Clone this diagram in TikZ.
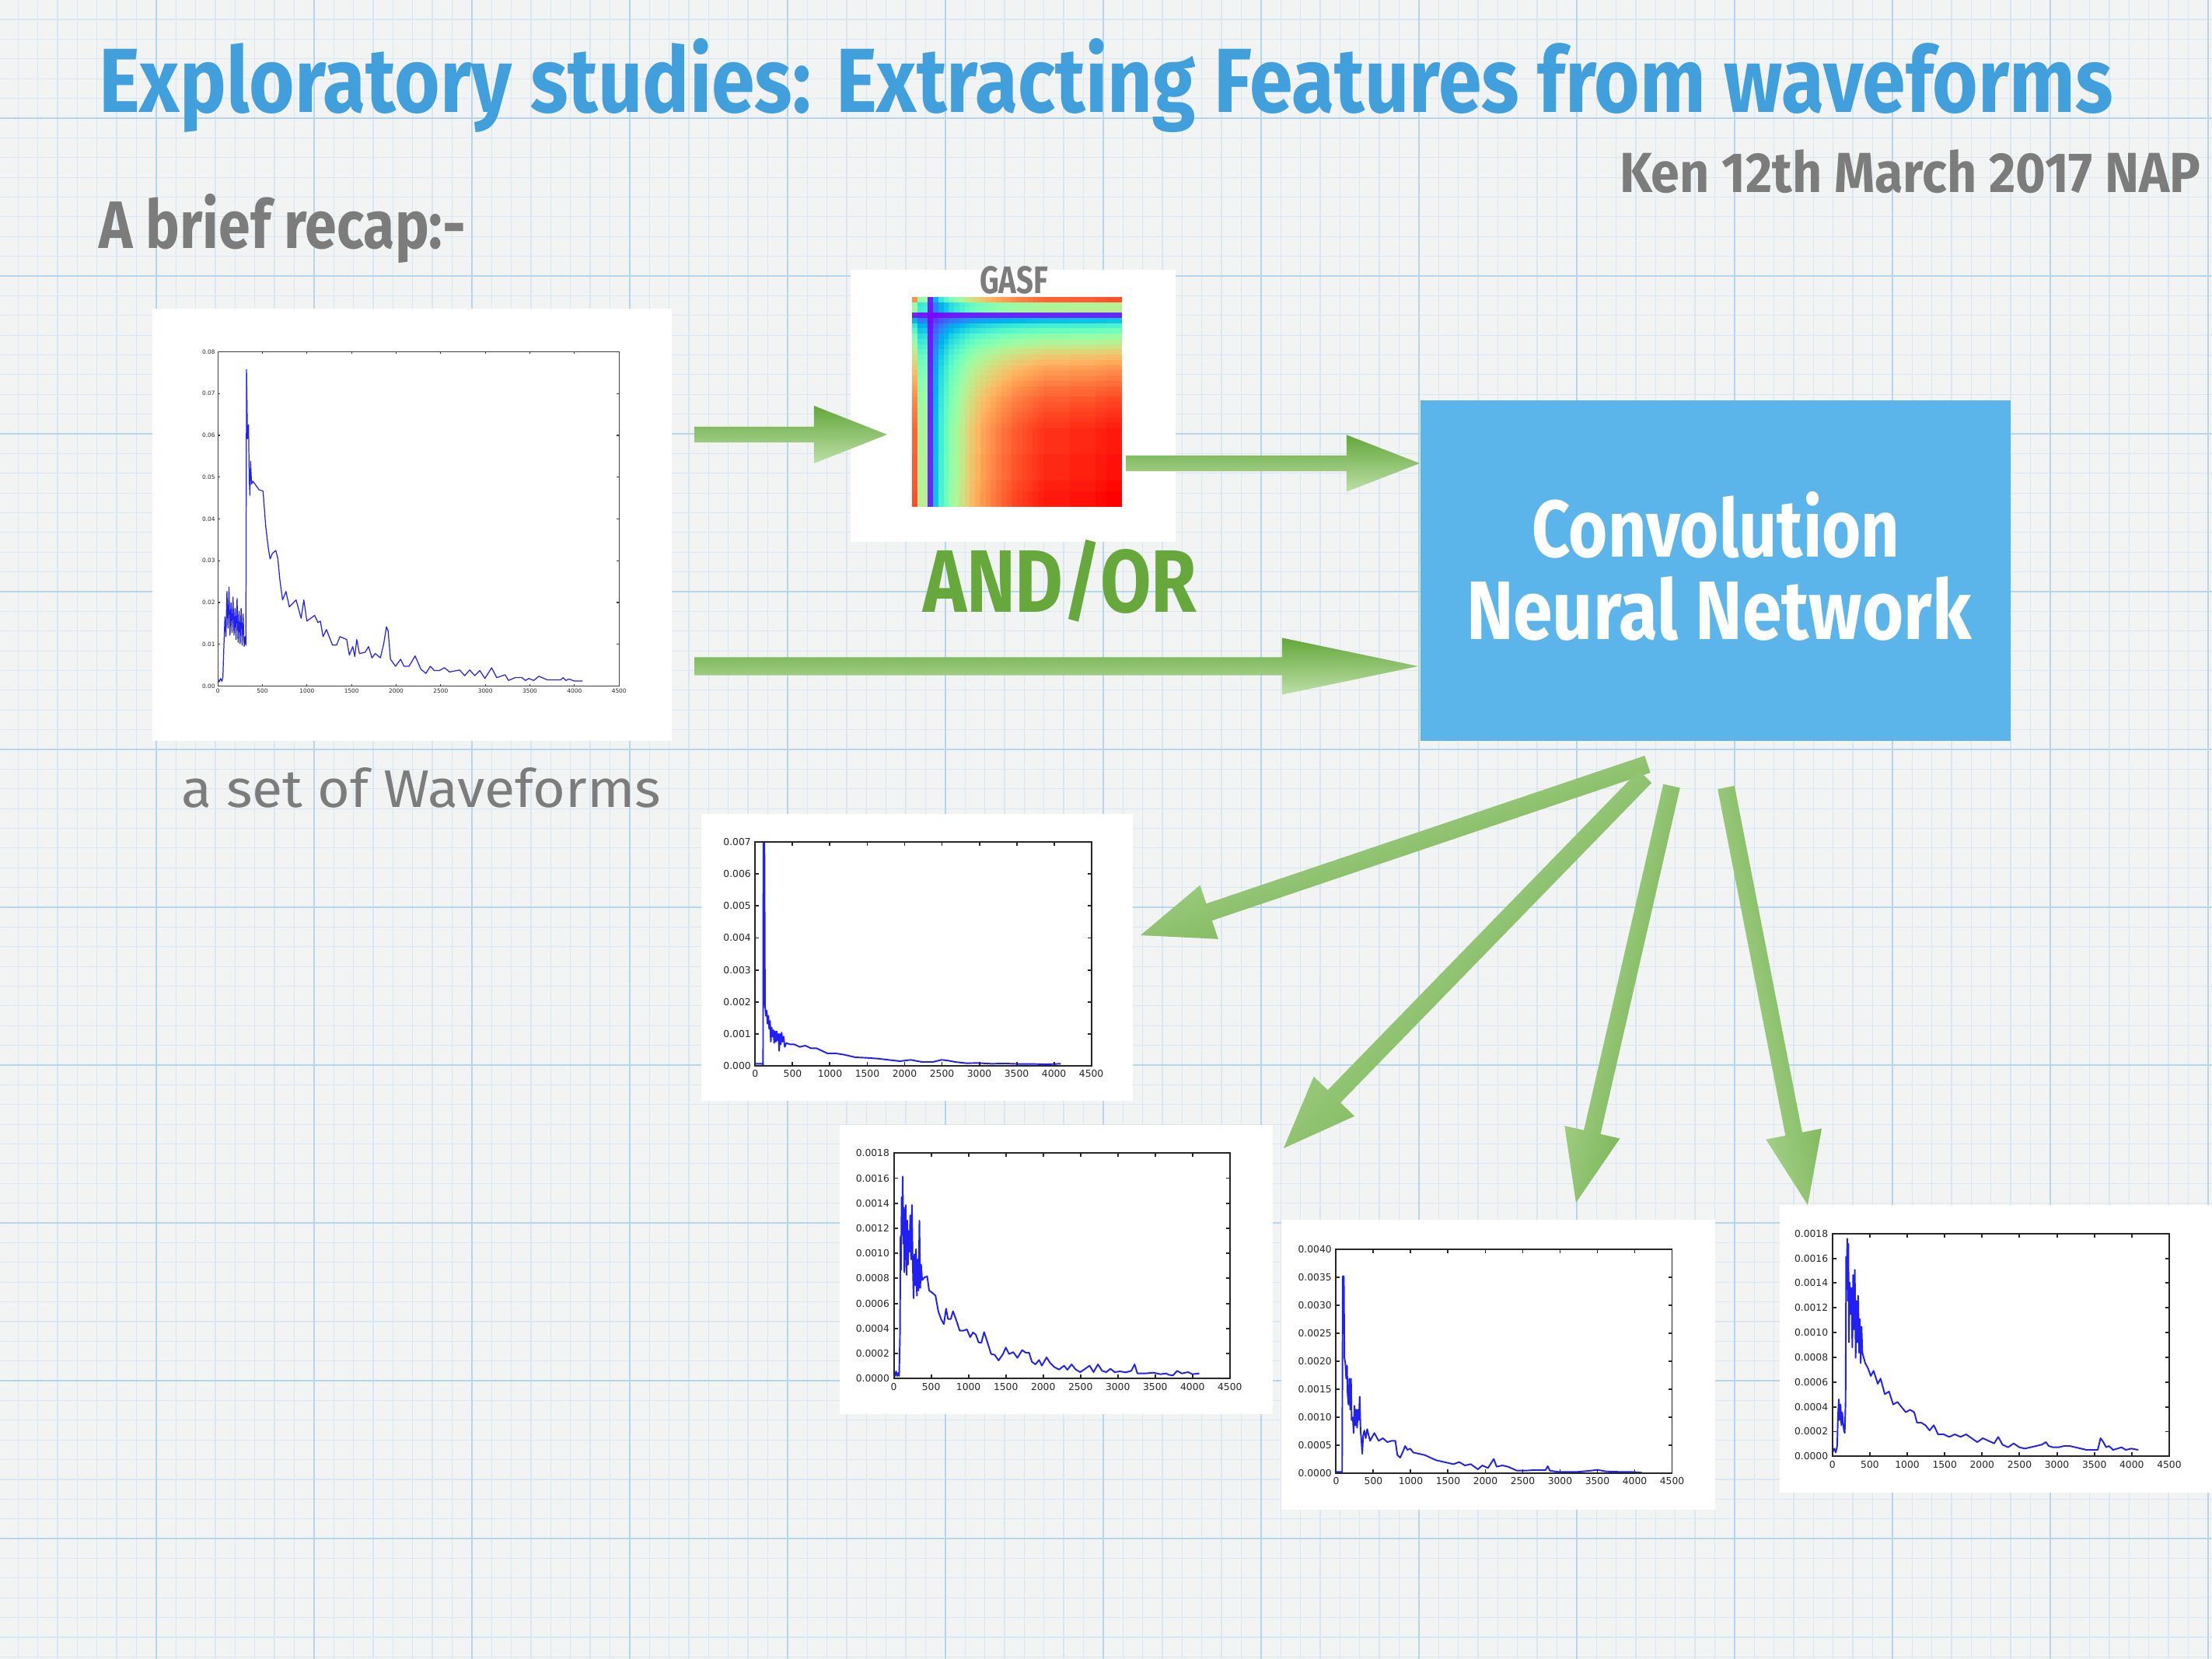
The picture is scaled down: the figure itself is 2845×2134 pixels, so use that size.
\documentclass[tikz,border=0pt]{standalone}
\usepackage{fontspec}
\usepackage{graphicx}
\usetikzlibrary{calc}
\newfontfamily\handfont{Fira Sans}
\newfontfamily\capfont{Fira Sans}
\newfontfamily\tickfont{DejaVu Sans}
\definecolor{bgpaper}{HTML}{F2F3F3}
\definecolor{gridminor}{HTML}{D8E7F1}
\definecolor{gridmajor}{HTML}{B6D6EE}
\definecolor{titleblue}{HTML}{419FDC}
\definecolor{textgray}{HTML}{7C7C7C}
\definecolor{andgreen}{HTML}{67A83C}
\definecolor{cnnblue}{HTML}{5BB5EA}
\definecolor{arrdark}{HTML}{64A73B}
\definecolor{arrlight}{HTML}{BCDFA6}
\definecolor{curveblue}{HTML}{2020F5}
\tikzset{
  panel/.style={fill=white, draw=none, inner sep=0pt, outer sep=0pt},
  txt/.style={inner sep=0pt, outer sep=0pt, anchor=base west},
  axisline/.style={draw=black!85, line width=0.55pt},
  curve/.style={draw=curveblue, line width=0.55pt, line join=round},
  ticklab/.style={inner sep=0pt, text=black!85, font=\tickfont},
  arrowfill/.style={top color=arrdark, bottom color=arrlight, draw=none},
  minorline/.style={draw=gridminor, line width=0.35pt},
  majorline/.style={draw=gridmajor, line width=0.75pt},
}
% tail, tip, shaft half width, head length, head half width, shading angle
\newcommand\fatarrow[6]{%
  \coordinate (fatH) at ($(#2)!#4!(#1)$);
  \shade[arrowfill, shading angle=#6]
    ($(#1)!#3!90:(#2)$) -- ($(fatH)!#3!90:(#2)$) -- ($(fatH)!#5!90:(#2)$) -- (#2)
    -- ($(fatH)!#5!-90:(#2)$) -- ($(fatH)!#3!-90:(#2)$) -- ($(#1)!#3!-90:(#2)$) -- cycle;
}
% x0, ytop, x1, ybottom, y labels, n intervals, font size, tick length, name prefix
\newcommand\plotframe[9]{%
  \draw[axisline] (#1,#2) rectangle (#3,#4);
  \foreach \lab [count=\i from 0] in {#5}{%
    \pgfmathsetmacro\yy{#4-(#4-#2)*\i/#6}%
    \draw[axisline] (#1,\yy) -- ++(#8,0) (#3,\yy) -- ++(-#8,0);
    \node[ticklab, anchor=east] (#9y\i) at (#1-#8,\yy) {\fontsize{#7}{#7}\selectfont\lab};
  }
  \foreach \lab [count=\i from 0] in {0,500,1000,1500,2000,2500,3000,3500,4000,4500}{%
    \pgfmathsetmacro\xx{#1+(#3-#1)*\i/9}%
    \draw[axisline] (\xx,#4) -- ++(0,-#8) (\xx,#2) -- ++(0,#8);
    \node[ticklab, anchor=north] (#9x\i) at (\xx,#4+#8) {\fontsize{#7}{#7}\selectfont\lab};
  }
}
\def\prof{0.9,0.6,0.62,0.05,0.28,0.4,0.47,0.55,0.6,0.65,0.7,0.74,0.77,0.8,0.82,0.84,0.86,0.88,0.89,0.91,0.92,0.93,0.94,0.95,0.96,0.97,0.97,0.97,0.97,0.97,0.98,0.98,0.98,0.98,0.98,0.99,0.99,1,1,1}
\begin{document}
\begin{tikzpicture}[x=0.01cm, y=-0.01cm]
\useasboundingbox (0,0) rectangle (2845,2134);
% ---------- graph paper background ----------
\fill[bgpaper] (0,0) rectangle (2845,2134);
\foreach \k in {0,...,111}{\pgfmathsetmacro\gx{23.2+25.375*\k}\draw[minorline] (\gx,0) -- (\gx,2134);}
\foreach \k in {-5,...,78}{\pgfmathsetmacro\gy{152+25.375*\k}\draw[minorline] (0,\gy) -- (2845,\gy);}
\foreach \k in {0,...,14}{\pgfmathsetmacro\gx{-2+203*\k}\draw[majorline] (\gx,0) -- (\gx,2134);}
\foreach \k in {0,...,9}{\pgfmathsetmacro\gy{152+203*\k}\draw[majorline] (0,\gy) -- (2845,\gy);}

% ---------- texts ----------
\node[txt, text=titleblue] (title) at (127,145)
  {\resizebox{25.89cm}{0.95cm}{\handfont\bfseries Exploratory studies: Extracting Features from waveforms}};
\node[txt, text=textgray] (author) at (2083,248)
  {\resizebox{7.47cm}{0.55cm}{\handfont\bfseries Ken 12th March 2017 NAP}};
\node[txt, text=textgray] (recap) at (127,320)
  {\resizebox{4.72cm}{0.70cm}{\handfont\bfseries A brief recap:-}};

% ---------- panels ----------
\node[panel, minimum width=6.68cm, minimum height=5.56cm] (wA) at (530,675) {};
\node[panel, minimum width=4.18cm, minimum height=3.50cm] (gasf) at (1303,522) {};
\node[panel, minimum width=5.55cm, minimum height=3.69cm] (wB) at (1179.5,1231.5) {};
\node[panel, minimum width=5.57cm, minimum height=3.72cm] (wC) at (1358.5,1633) {};
\node[panel, minimum width=5.58cm, minimum height=3.73cm] (wD) at (1927,1755.5) {};
\node[panel, minimum width=5.56cm, minimum height=3.70cm] (wE) at (2567,1735) {};
\node[fill=cnnblue, inner sep=0pt, minimum width=7.59cm, minimum height=4.38cm] (cnn) at (2206.5,734) {};

% ---------- GASF heat map ----------
\begin{scope}
\clip (1173,382) rectangle (1443,653);
\foreach \pa [count=\i from 0] in \prof {
  \foreach \pb [count=\j from 0] in \prof {
    \pgfmathsetmacro\vv{\pa*\pb}
    \pgfmathsetmacro\rr{min(1,abs(2*\vv-0.5))}
    \pgfmathsetmacro\gg{max(0,sin(180*\vv))}
    \pgfmathsetmacro\bb{max(0,cos(90*\vv))}
    \definecolor{hc}{rgb}{\rr,\gg,\bb}
    \fill[hc] ({1173+6.75*\j},{382+6.75*\i}) rectangle ++(7.2,7.2);
  }
}
\end{scope}
\node[txt, text=textgray] (gasflab) at (1260,378)
  {\resizebox{0.88cm}{0.35cm}{\handfont\bfseries GASF}};
\node[txt, text=andgreen] (andor) at (1187,788)
  {\resizebox{3.52cm}{0.93cm}{\handfont\bfseries AND/OR}};
\node[txt, text=textgray] (caption) at (233,1038)
  {\resizebox{6.17cm}{0.51cm}{\capfont a set of Waveforms}};
\node[txt, text=white] (cnn1) at (1970,717)
  {\resizebox{4.73cm}{0.84cm}{\handfont\bfseries Convolution}};
\node[txt, text=white] (cnn2) at (1886,823)
  {\resizebox{6.49cm}{0.81cm}{\handfont\bfseries Neural Network}};

% ---------- plot A ----------
\begin{scope}[shift={(190,390)}, xscale=0.43365, yscale=0.36350]
\draw[curve, line width=0.35pt] plot coordinates {(208,1330) (212,1340) (216,1328) (220,1338) (223,1322) (226,1210) (229,1110) (232,1180) (235,1020) (238,1150) (241,1005) (244,1175) (247,1060) (250,1165) (253,1040) (256,1175) (259,1080) (262,1190) (265,1045) (268,1200) (271,1090) (274,1205) (277,1080) (280,1210) (283,1100) (286,1215) (289,1180) (291,1210) (293,235) (296,480) (299,430) (301,620) (303,680) (305,560) (308,640) (312,630) (318,640) (330,660) (342,665) (350,790) (358,870) (363,905) (370,885) (380,875) (386,905) (392,980) (400,1050) (410,1020) (420,1075) (440,1050) (455,1115) (463,1050) (472,1125) (495,1105) (505,1130) (512,1125) (520,1180) (530,1155) (548,1210) (560,1210) (570,1180) (590,1190) (598,1245) (608,1215) (614,1250) (620,1190) (628,1240) (645,1235) (655,1215) (665,1255) (675,1240) (690,1255) (700,1205) (708,1145) (713,1160) (720,1260) (735,1285) (750,1260) (760,1285) (775,1285) (793,1248) (810,1295) (825,1310) (838,1285) (850,1300) (865,1300) (880,1290) (895,1305) (925,1298) (940,1318) (955,1298) (970,1318) (985,1300) (1000,1328) (1020,1290) (1035,1325) (1060,1315) (1070,1335) (1090,1325) (1110,1325) (1120,1335) (1130,1328) (1145,1335) (1160,1320) (1185,1333) (1225,1333) (1232,1325) (1240,1335) (1250,1330) (1265,1337) (1290,1337)};
\end{scope}
\begin{scope}[axisline/.style={draw=black!75, line width=0.3pt}]
\plotframe{280.2}{452.5}{796.2}{882.5}{0.00,0.01,0.02,0.03,0.04,0.05,0.06,0.07,0.08}{8}{2.1}{3}{pa}
\end{scope}

% ---------- plot B ----------
\begin{scope}[shift={(900,1040)}, xscale=0.35714, yscale=0.33333]
\draw[curve] plot coordinates {(200,985) (226,985) (228,990) (229,130) (233,130) (235,760) (238,800) (241,780) (244,830) (247,800) (250,850) (253,820) (256,900) (259,845) (262,880) (265,855) (268,905) (271,860) (274,900) (277,860) (280,895) (283,870) (286,935) (289,870) (292,910) (295,865) (298,900) (302,880) (306,920) (312,905) (325,910) (340,910) (360,920) (380,915) (400,925) (420,925) (440,935) (460,945) (490,945) (520,950) (560,960) (600,962) (640,965) (680,970) (720,975) (760,970) (800,978) (840,978) (870,970) (890,972) (920,978) (960,983) (1000,982) (1050,985) (1100,984) (1150,986) (1200,986) (1250,987) (1300,985)};
\end{scope}
\plotframe{971.4}{1083.3}{1403.6}{1370.7}{0.000,0.001,0.002,0.003,0.004,0.005,0.006,0.007}{7}{3.5}{5}{pb}

% ---------- plot C ----------
\begin{scope}[shift={(1080,1440)}, xscale=0.35714, yscale=0.33333]
\draw[curve] plot coordinates {(195,975) (199,990) (203,972) (207,990) (211,978) (214,990) (217,840) (219,450) (221,580) (223,300) (225,440) (227,220) (229,480) (231,340) (233,590) (236,420) (238,330) (241,600) (243,390) (246,560) (248,430) (251,510) (254,370) (257,540) (260,330) (263,560) (266,690) (269,520) (272,640) (275,500) (278,680) (281,540) (284,660) (287,390) (290,650) (293,560) (297,620) (305,610) (315,605) (322,660) (335,670) (345,680) (355,740) (365,770) (375,790) (383,730) (390,770) (400,770) (408,740) (420,775) (432,815) (445,815) (458,810) (470,840) (480,822) (490,830) (500,860) (510,862) (520,820) (532,860) (545,905) (558,908) (572,930) (588,905) (598,880) (610,905) (625,898) (640,920) (657,890) (670,900) (682,900) (692,935) (705,945) (718,928) (728,950) (745,918) (758,940) (772,955) (790,965) (808,950) (820,966) (835,945) (850,965) (866,975) (880,965) (900,950) (914,975) (930,945) (945,970) (960,975) (975,962) (990,975) (1010,972) (1030,976) (1050,970) (1062,945) (1072,980) (1100,980) (1130,977) (1155,983) (1175,980) (1185,985) (1200,988) (1215,970) (1232,980) (1255,975) (1270,983) (1295,980)};
\end{scope}
\plotframe{1149.6}{1483.3}{1581.8}{1773.3}{0.0000,0.0002,0.0004,0.0006,0.0008,0.0010,0.0012,0.0014,0.0016,0.0018}{9}{3.5}{5}{pc}

% ---------- plot D ----------
\begin{scope}[shift={(1640,1560)}, xscale=0.36996, yscale=0.33333]
\draw[curve] plot coordinates {(212,1000) (233,1000) (235,245) (239,245) (241,560) (244,580) (247,640) (250,590) (252,700) (255,740) (258,640) (261,760) (264,640) (266,800) (270,790) (273,850) (276,745) (279,820) (282,760) (285,830) (288,760) (291,800) (294,710) (297,840) (300,880) (303,930) (306,860) (310,840) (315,870) (320,835) (330,880) (345,850) (360,880) (375,870) (390,885) (405,880) (418,880) (425,935) (435,945) (445,920) (452,900) (460,915) (470,910) (480,925) (500,930) (520,935) (540,945) (560,955) (580,960) (600,965) (620,970) (640,962) (660,975) (680,970) (705,990) (720,975) (740,985) (760,950) (770,980) (790,975) (810,980) (840,995) (870,995) (900,993) (940,993) (948,978) (955,995) (985,1000) (1050,1000) (1100,995) (1120,992) (1150,998) (1200,1000) (1240,1000) (1275,1003)};
\end{scope}
\plotframe{1718.4}{1606.7}{2150.5}{1895}{0.0000,0.0005,0.0010,0.0015,0.0020,0.0025,0.0030,0.0035,0.0040}{8}{3.5}{5}{pd}

% ---------- plot E ----------
\begin{scope}[shift={(2280,1540)}, xscale=0.36036, yscale=0.33333]
\draw[curve] plot coordinates {(213,985) (220,970) (225,985) (230,960) (233,840) (236,780) (239,860) (242,800) (245,880) (248,830) (251,870) (254,900) (257,910) (260,790) (262,230) (264,330) (266,160) (268,400) (270,180) (272,560) (275,330) (278,450) (281,350) (284,580) (287,300) (290,510) (293,280) (296,620) (299,400) (302,560) (305,380) (308,600) (311,470) (314,640) (317,500) (320,600) (330,640) (340,660) (350,690) (360,670) (375,720) (385,700) (400,760) (415,750) (430,800) (445,790) (460,810) (475,830) (490,820) (505,830) (515,870) (530,870) (545,880) (560,900) (575,880) (590,915) (610,915) (630,925) (650,915) (670,925) (690,915) (710,930) (730,945) (750,930) (770,940) (790,950) (805,925) (820,955) (840,965) (860,950) (880,965) (900,970) (920,965) (940,960) (960,955) (975,945) (985,960) (1000,965) (1020,965) (1040,960) (1060,960) (1080,965) (1100,970) (1120,975) (1140,975) (1160,975) (1170,930) (1180,945) (1190,965) (1200,960) (1215,975) (1230,970) (1245,965) (1260,975) (1280,970) (1305,975)};
\end{scope}
\plotframe{2356.8}{1586.7}{2789.9}{1873.3}{0.0000,0.0002,0.0004,0.0006,0.0008,0.0010,0.0012,0.0014,0.0016,0.0018}{9}{3.5}{5}{pe}

% ---------- arrows ----------
\coordinate (a1s) at (893,559);   \coordinate (a1e) at (1141,559);
\coordinate (a2s) at (1448,596);  \coordinate (a2e) at (1826,596);
\coordinate (a3s) at (893,857);   \coordinate (a3e) at (1824,857);
\coordinate (a4s) at (2119,983);  \coordinate (a4e) at (1467,1203);
\coordinate (a5s) at (2116,999);  \coordinate (a5e) at (1651,1477);
\coordinate (a6s) at (2150,1011); \coordinate (a6e) at (2027,1547);
\coordinate (a7s) at (2220,1013); \coordinate (a7e) at (2325,1550);
\fatarrow{a1s}{a1e}{0.10cm}{0.94cm}{0.37cm}{0}
\fatarrow{a2s}{a2e}{0.10cm}{0.94cm}{0.365cm}{0}
\fatarrow{a3s}{a3e}{0.115cm}{1.75cm}{0.365cm}{0}
\fatarrow{a4s}{a4e}{0.115cm}{0.93cm}{0.365cm}{198.8}
\fatarrow{a5s}{a5e}{0.115cm}{0.93cm}{0.365cm}{225.9}
\fatarrow{a6s}{a6e}{0.11cm}{0.93cm}{0.365cm}{257.2}
\fatarrow{a7s}{a7e}{0.11cm}{0.93cm}{0.365cm}{281.2}
\end{tikzpicture}
\end{document}
